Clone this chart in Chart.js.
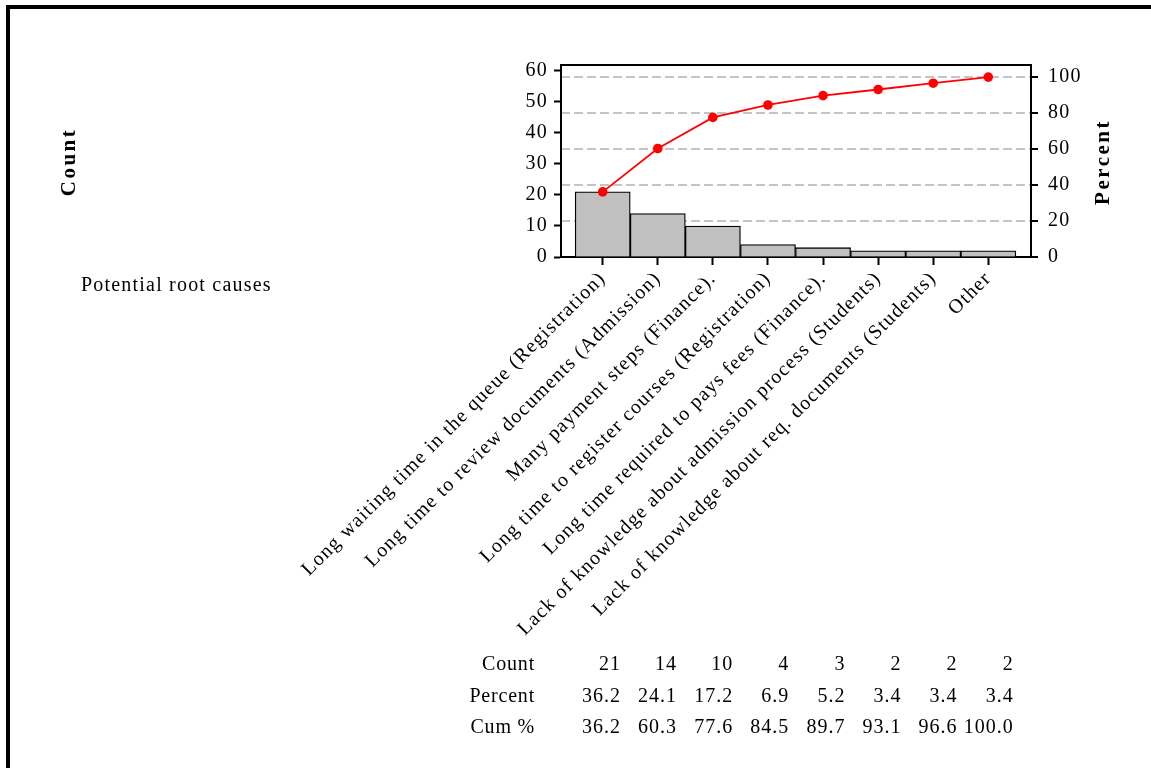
<!DOCTYPE html>
<html>
<head>
<meta charset="utf-8">
<title>Pareto chart of potential root causes</title>
<script src="https://cdn.jsdelivr.net/npm/chart.js@4.4.1/dist/chart.umd.min.js"></script>
<style>
  html, body { margin: 0; padding: 0; background: #fff; }
  #wrap { position: relative; width: 1151px; height: 768px; }
</style>
</head>
<body>
<div id="wrap"><canvas id="pareto" width="1151" height="768"></canvas></div>
<script>
// data
const causes = [
    'Long waiting time in the queue (Registration)',
    'Long time to review documents (Admission)',
    'Many payment steps (Finance).',
    'Long time to register courses (Registration)',
    'Long time required to pays fees (Finance).',
    'Lack of knowledge about admission process (Students)',
    'Lack of knowledge about req. documents (Students)',
    'Other'
];
const counts = [21, 14, 10, 4, 3, 2, 2, 2];
const percents = [36.2, 24.1, 17.2, 6.9, 5.2, 3.4, 3.4, 3.4];
const cumPercents = [36.2, 60.3, 77.6, 84.5, 89.7, 93.1, 96.6, 100.0];
const countTicks = [0, 10, 20, 30, 40, 50, 60];
const percentTicks = [0, 20, 40, 60, 80, 100];

const serif = "'Liberation Serif', 'Times New Roman', serif";
const countMax = 61.9;
const total = counts.reduce((a, b) => a + b, 0);
const percentMax = countMax / total * 100;
const LS = '1.2px';

// Chart.js has no letter spacing option, the source chart is a bit spaced out
const spacing = {
    id: 'spacing',
    beforeInit(chart) { chart.ctx.letterSpacing = LS; },
    beforeUpdate(chart) { chart.ctx.letterSpacing = LS; },
    beforeDraw(chart) { chart.ctx.letterSpacing = LS; }
};

function drawText(ctx, text, x, y, opts) {
    ctx.save();
    ctx.font = (opts.bold ? 'bold ' : '') + opts.size + 'px ' + serif;
    ctx.letterSpacing = (opts.ls || 0) + 'px';
    ctx.fillStyle = '#000';
    ctx.textAlign = opts.align || 'left';
    ctx.textBaseline = 'middle';
    ctx.translate(x, y);
    if (opts.rotate) ctx.rotate(opts.rotate);
    ctx.fillText(text, 0, 0);
    ctx.restore();
}

const extras = {
    id: 'extras',
    afterDraw(chart) {
        const ctx = chart.ctx;
        const area = chart.chartArea;

        // top edge of the plot frame
        ctx.save();
        ctx.strokeStyle = '#000';
        ctx.lineWidth = 2;
        ctx.beginPath();
        ctx.moveTo(area.left - 1, area.top);
        ctx.lineTo(area.right + 1, area.top);
        ctx.stroke();

        // outer frame (top and left only)
        ctx.fillStyle = '#000';
        ctx.fillRect(6, 5, 4, 763);
        ctx.fillRect(6, 5, 1145, 4);
        ctx.restore();

        // axis titles
        drawText(ctx, 'Count', 70, 162, { size: 21, bold: true, ls: 2.5, align: 'center', rotate: -Math.PI / 2 });
        drawText(ctx, 'Percent', 1104, 162, { size: 21, bold: true, ls: 2.5, align: 'center', rotate: -Math.PI / 2 });
        drawText(ctx, 'Potential root causes', 81, 286, { size: 20, ls: 1.2 });

        // summary table under the chart
        const rows = [
            ['Count', counts.map(String)],
            ['Percent', percents.map(v => v.toFixed(1))],
            ['Cum %', cumPercents.map(v => v.toFixed(1))]
        ];
        rows.forEach(([label, vals], r) => {
            const y = 665 + r * 31.5;
            drawText(ctx, label, 535, y, { size: 20, ls: 0.8, align: 'right' });
            vals.forEach((v, i) => {
                drawText(ctx, v, 621 + i * 56.1, y, { size: 20, ls: 1, align: 'right' });
            });
        });
    }
};

const ctx = document.getElementById('pareto');
new Chart(ctx, {
    data: {
        datasets: [{
            type: 'line',
            label: 'Cum %',
            data: cumPercents.map((v, i) => ({ x: i, y: v })),
            yAxisID: 'y1',
            borderColor: '#ff0000',
            borderWidth: 1.8,
            pointRadius: 4.8,
            pointBackgroundColor: '#ff0000',
            pointBorderWidth: 0,
            tension: 0,
            order: 0
        }, {
            type: 'bar',
            label: 'Count',
            data: counts.map((v, i) => ({ x: i, y: v })),
            yAxisID: 'y',
            backgroundColor: '#c0c0c0',
            borderColor: '#000',
            borderWidth: 1.3,
            barPercentage: 1,
            categoryPercentage: 1,
            order: 1
        }]
    },
    options: {
        responsive: false,
        animation: false,
        devicePixelRatio: 1,
        layout: { padding: { top: 65, left: 10, right: 0, bottom: 0 } },
        plugins: { legend: { display: false }, tooltip: { enabled: false } },
        scales: {
            x: {
                type: 'linear',
                offset: false,
                min: -0.757,
                max: 7.775,
                afterBuildTicks: s => { s.ticks = causes.map((c, i) => ({ value: i })); },
                afterFit: s => { s.height = 511; },
                ticks: {
                    autoSkip: false,
                    minRotation: 45,
                    maxRotation: 45,
                    padding: 2,
                    color: '#000',
                    font: { family: serif, size: 20 },
                    callback: v => causes[v]
                },
                grid: { offset: false, drawOnChartArea: false, color: '#000', tickLength: 8, tickWidth: 2 },
                border: { color: '#000', width: 2 }
            },
            y: {
                position: 'left',
                min: 0,
                max: countMax,
                afterBuildTicks: s => { s.ticks = countTicks.map(v => ({ value: v })); },
                afterFit: s => { s.width = 551; },
                ticks: { color: '#000', padding: 6, font: { family: serif, size: 20 } },
                grid: { drawOnChartArea: false, color: '#000', tickLength: 7, tickWidth: 2 },
                border: { color: '#000', width: 2 }
            },
            y1: {
                position: 'right',
                min: 0,
                max: percentMax,
                afterBuildTicks: s => { s.ticks = percentTicks.map(v => ({ value: v })); },
                afterFit: s => { s.width = 120; },
                ticks: { color: '#000', padding: 10, font: { family: serif, size: 20 } },
                grid: {
                    color: c => (c.tick && c.tick.value === 0) ? 'rgba(0,0,0,0)' : '#c4c4c4',
                    lineWidth: 2,
                    tickColor: '#000',
                    tickLength: 7,
                    tickWidth: 2
                },
                border: { color: '#000', width: 2, dash: [9, 4] }
            }
        }
    },
    plugins: [spacing, extras]
});
</script>
</body>
</html>
